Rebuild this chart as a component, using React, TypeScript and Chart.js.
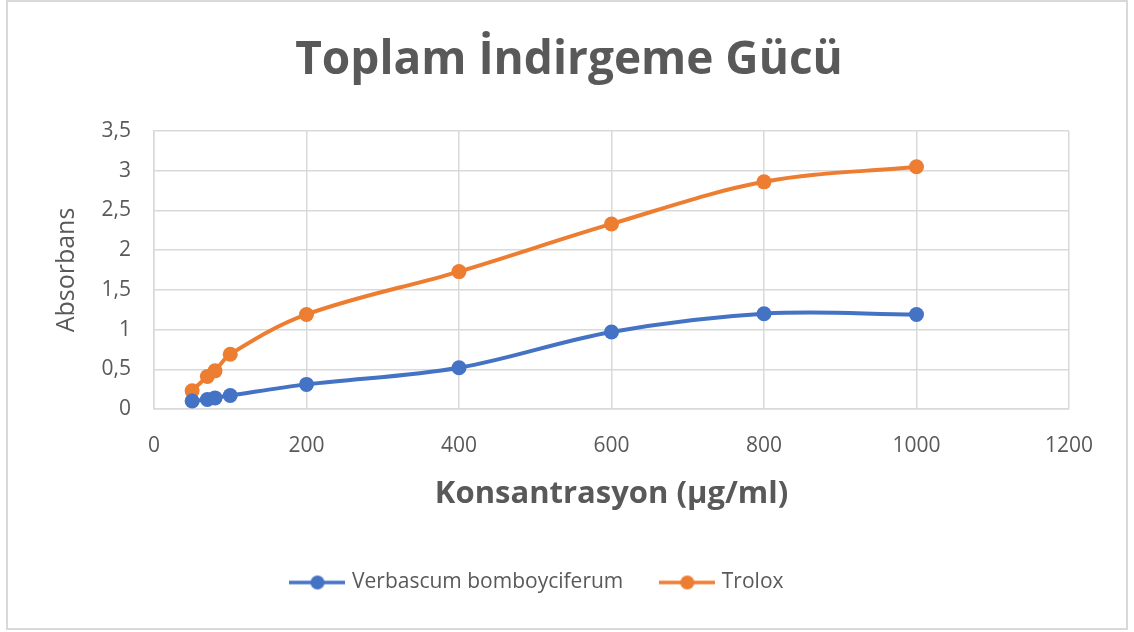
import React, { useEffect, useRef } from 'react';
import { Chart, registerables } from 'chart.js';

Chart.register(...registerables);

const concentrations = [50, 70, 80, 100, 200, 400, 600, 800, 1000];
const verbascum = [0.10, 0.12, 0.14, 0.17, 0.31, 0.52, 0.97, 1.20, 1.19];
const trolox = [0.23, 0.41, 0.48, 0.69, 1.19, 1.73, 2.33, 2.86, 3.05];
const seriesNames = ['Verbascum bomboyciferum', 'Trolox'];
const seriesColors = ['#4472C4', '#ED7D31'];
const chartTitle = 'Toplam İndirgeme Gücü';
const xTitle = 'Konsantrasyon (µg/ml)';
const yTitle = 'Absorbans';
const xMin = 0, xMax = 1200, xStep = 200;
const yMin = 0, yMax = 3.5, yStep = 0.5;

const TEXT = '#595959';
const GRID = '#d9d9d9';
const FONT = '"Open Sans", Lato, sans-serif';

function makeIcon(color: string) {
  const c = document.createElement('canvas');
  c.width = 56;
  c.height = 16;
  const ctx = c.getContext('2d')!;
  ctx.strokeStyle = color;
  ctx.lineWidth = 3.5;
  ctx.beginPath();
  ctx.moveTo(0, 8);
  ctx.lineTo(56, 8);
  ctx.stroke();
  ctx.fillStyle = color;
  ctx.beginPath();
  ctx.arc(28, 8, 7, 0, Math.PI * 2);
  ctx.fill();
  return c;
}

export default function App() {
  const ref = useRef<HTMLCanvasElement>(null);
  useEffect(() => {
    if (!ref.current) return;
    const icons = seriesColors.map(makeIcon);
    const titlePlugin = {
      id: 'customTitle',
      afterDraw(chart: any) {
        const ctx = chart.ctx;
        ctx.save();
        ctx.font = `bold 46px ${FONT}`;
        ctx.fillStyle = TEXT;
        ctx.textAlign = 'center';
        ctx.textBaseline = 'middle';
        ctx.fillText(chartTitle, 561, 59);
        ctx.restore();
      },
    };
    const mk = (vals: number[], i: number) => ({
      label: seriesNames[i],
      data: concentrations.map((x, k) => ({ x, y: vals[k] })),
      borderColor: seriesColors[i],
      backgroundColor: seriesColors[i],
      borderWidth: 4,
      pointRadius: 7.5,
      pointHoverRadius: 7.5,
      pointBorderWidth: 0,
      tension: 0.35,
      fill: false,
    });
    const chart = new Chart(ref.current, {
      type: 'line',
      data: { datasets: [mk(verbascum, 0), mk(trolox, 1)] },
      plugins: [titlePlugin],
      options: {
        animation: false,
        responsive: false,
        maintainAspectRatio: false,
        layout: { padding: { left: 0, right: 57, top: 129, bottom: 25 } },
        plugins: {
          title: { display: false },
          tooltip: { enabled: false },
          legend: {
            position: 'bottom',
            labels: {
              usePointStyle: true,
              pointStyleWidth: 48,
              padding: 40,
              color: TEXT,
              font: { family: FONT, size: 21 },
              generateLabels(chart: any) {
                const items = Chart.defaults.plugins.legend.labels.generateLabels(chart);
                return items.map((it: any, i: number) => ({ ...it, pointStyle: icons[i] }));
              },
            },
          },
        },
        scales: {
          x: {
            type: 'linear',
            min: xMin,
            max: xMax,
            afterFit(s: any) { s.height = 123; },
            ticks: {
              stepSize: xStep,
              padding: 24,
              color: TEXT,
              font: { family: FONT, size: 21 },
              callback: (v: any) => String(v),
            },
            grid: { color: GRID, lineWidth: 1.5, drawTicks: false },
            border: { color: GRID, width: 1.5 },
            title: {
              display: true,
              text: xTitle,
              color: TEXT,
              font: { family: FONT, size: 31, weight: 'bold' },
              padding: { top: 0, bottom: 19 },
            },
          },
          y: {
            type: 'linear',
            min: yMin,
            max: yMax,
            afterFit(s: any) { s.width = 146; },
            ticks: {
              stepSize: yStep,
              padding: 23,
              color: TEXT,
              font: { family: FONT, size: 21 },
              callback: (v: any) => String(v).replace('.', ','),
            },
            grid: { color: GRID, lineWidth: 1.5, drawTicks: false },
            border: { color: GRID, width: 1.5 },
            title: {
              display: true,
              text: yTitle,
              color: TEXT,
              font: { family: FONT, size: 25 },
              padding: { top: 44, bottom: 0 },
            },
          },
        },
      },
    });
    return () => chart.destroy();
  }, []);
  return (
    <div
      style={{
        position: 'absolute',
        left: 6,
        top: 0,
        width: 1122,
        height: 630,
        border: '2px solid #d9d9d9',
        boxSizing: 'border-box',
        background: '#fff',
      }}
    >
      <canvas ref={ref} width={1118} height={626} style={{ display: 'block', width: 1118, height: 626 }} />
    </div>
  );
}
